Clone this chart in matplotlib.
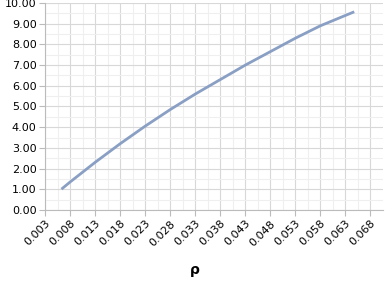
import matplotlib.pyplot as plt
import numpy as np

# rho vs value
rho = [0.0065, 0.008, 0.013, 0.018, 0.023, 0.028, 0.033, 0.038, 0.043, 0.048, 0.053, 0.058, 0.063, 0.0645]
val = [1.05, 1.35, 2.3, 3.2, 4.05, 4.85, 5.6, 6.3, 7.0, 7.65, 8.3, 8.9, 9.4, 9.55]

xticks = np.arange(0.003, 0.0681, 0.005)
yticks = np.arange(0, 10.01, 1)

fig = plt.figure(figsize=(3.87, 3.08), dpi=100)
ax = fig.add_axes([45/387, 1 - 210/308, 338/387, 207/308])

ax.plot(rho, val, color='#8a9fc4', linewidth=2)

ax.set_xlim(0.003, 0.0705)
ax.set_ylim(0, 10)
ax.set_xticks(xticks)
ax.set_xticklabels(['%.3f' % t for t in xticks], rotation=45, ha='right', rotation_mode='anchor', fontsize=8)
ax.set_yticks(yticks)
ax.set_yticklabels(['%.2f' % t for t in yticks], fontsize=8)
ax.set_xticks(xticks[:-1] + 0.0025, minor=True)
ax.set_yticks(np.arange(0.5, 10, 1), minor=True)
ax.tick_params(which='minor', length=0)
ax.tick_params(which='major', length=4, color='#bbbbbb', pad=2)

ax.grid(which='major', color='#d8d8d8', linewidth=0.8)
ax.grid(which='minor', color='#efefef', linewidth=0.8)
ax.set_axisbelow(True)

for s in ['top', 'right']:
    ax.spines[s].set_visible(False)
for s in ['left', 'bottom']:
    ax.spines[s].set_color('#bbbbbb')

ax.set_xlabel('ρ', fontsize=10, fontweight='bold')
ax.xaxis.set_label_coords((195 - 45) / 338, -(270 - 210) / 207)
ax.xaxis.label.set_va('center')

plt.savefig('out.png', dpi=100)
